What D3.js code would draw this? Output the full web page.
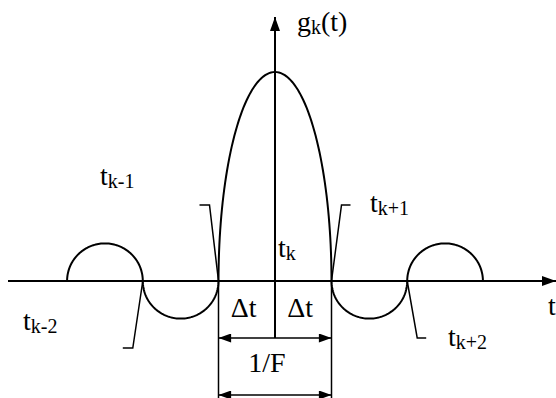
<!DOCTYPE html>
<html lang="en">
  <head>
    <meta charset="utf-8" />
    <title>g_k(t)</title>
    <script src="https://d3js.org/d3.v7.min.js"></script>
    <style type="text/css">
      body { margin: 0; background: #fff; }
    </style>
  </head>
  <body>
    <svg id="chart" width="556" height="398"></svg>
    <script type="text/javascript">
      // lobes of g_k(t), t measured in units of Δt from t_k
      const lobeStart = [-3.68, -2.34, -1, 1, 2.34];
      const lobeEnd   = [-2.34, -1, 1, 2.34, 3.68];
      const lobeAmp   = [0.18, -0.18, 1, -0.18, 0.18];

      // zero crossing labels
      const nodeNames = ["k-2", "k-1", "k", "k+1", "k+2"];
      const nodeT     = [-2.34, -1, 0, 1, 2.34];

      const serif = "Liberation Serif";

      const svg = d3.select("#chart");
      const x = d3.scaleLinear().domain([-1, 1]).range([218.5, 331.5]);
      const y = d3.scaleLinear().domain([0, 1]).range([281, 72]);

      // arrow markers
      const defs = svg.append("defs");
      defs.append("marker")
          .attr("id", "ax")
          .attr("viewBox", "0 0 14 10")
          .attr("refX", 14).attr("refY", 5)
          .attr("markerWidth", 14).attr("markerHeight", 10)
          .attr("markerUnits", "userSpaceOnUse")
          .attr("orient", "auto")
        .append("path").attr("d", "M0,0L14,5L0,10Z").attr("fill", "#000");
      defs.append("marker")
          .attr("id", "dim")
          .attr("viewBox", "0 0 14 10")
          .attr("refX", 14).attr("refY", 5)
          .attr("markerWidth", 14).attr("markerHeight", 9)
          .attr("markerUnits", "userSpaceOnUse")
          .attr("orient", "auto-start-reverse")
        .append("path").attr("d", "M0,0L14,5L0,10Z").attr("fill", "#000");

      // axes
      svg.append("line")
          .attr("x1", 8).attr("x2", 556)
          .attr("y1", y(0)).attr("y2", y(0))
          .attr("stroke", "#000").attr("stroke-width", 2)
          .attr("marker-end", "url(#ax)");
      svg.append("line")
          .attr("x1", x(0)).attr("x2", x(0))
          .attr("y1", 338).attr("y2", 17)
          .attr("stroke", "#000").attr("stroke-width", 2)
          .attr("marker-end", "url(#ax)");

      // half-ellipse lobes
      const line = d3.line().x(d => x(d[0])).y(d => y(d[1]));
      const lobes = lobeStart.map((s, i) => {
        const c = (s + lobeEnd[i]) / 2, r = (lobeEnd[i] - s) / 2;
        return d3.range(0, 181, 2).map(a => {
          const th = Math.PI - a * Math.PI / 180;
          return [c + r * Math.cos(th), lobeAmp[i] * Math.sin(th)];
        });
      });
      svg.selectAll("path.lobe")
          .data(lobes)
          .enter()
          .append("path")
          .attr("class", "lobe")
          .attr("d", line)
          .attr("fill", "none")
          .attr("stroke", "#000")
          .attr("stroke-width", 2);

      // extension lines for 1/F
      svg.selectAll("line.ext")
          .data([-1, 1])
          .enter()
          .append("line")
          .attr("class", "ext")
          .attr("x1", d => x(d)).attr("x2", d => x(d))
          .attr("y1", y(0)).attr("y2", 398)
          .attr("stroke", "#000").attr("stroke-width", 1.5);

      // Δt dimension (two halves with outward arrows)
      svg.selectAll("line.dt")
          .data([-1, 1])
          .enter()
          .append("line")
          .attr("class", "dt")
          .attr("x1", x(0)).attr("x2", d => x(d))
          .attr("y1", 338).attr("y2", 338)
          .attr("stroke", "#000").attr("stroke-width", 1.5)
          .attr("marker-end", "url(#dim)");
      // 1/F dimension
      svg.append("line")
          .attr("x1", x(-1)).attr("x2", x(1))
          .attr("y1", 395).attr("y2", 395)
          .attr("stroke", "#000").attr("stroke-width", 1.5)
          .attr("marker-start", "url(#dim)")
          .attr("marker-end", "url(#dim)");

      // leader lines from zero crossings to labels
      const leaders = [
        {t: nodeT[0], pts: [[0, 0], [-10, 67], [-20, 67]]},
        {t: nodeT[1], pts: [[0, 0], [-9, -76], [-19, -76]]},
        {t: nodeT[3], pts: [[0, 0], [10, -76], [19, -76]]},
        {t: nodeT[4], pts: [[0, 0], [10, 57], [19, 57]]}
      ];
      svg.selectAll("path.leader")
          .data(leaders)
          .enter()
          .append("path")
          .attr("class", "leader")
          .attr("d", d => d3.line()(d.pts.map(p => [x(d.t) + p[0], y(0) + p[1]])))
          .attr("fill", "none")
          .attr("stroke", "#000").attr("stroke-width", 1.5);

      // subscripted labels
      function sub(tx, ty, base, s, tail) {
        const t = svg.append("text")
            .attr("x", tx).attr("y", ty)
            .attr("font-family", serif)
            .attr("font-size", 28);
        t.append("tspan").text(base);
        t.append("tspan").attr("dy", 3).attr("font-size", 20).text(s);
        if (tail) t.append("tspan").attr("dy", -3).text(tail);
      }
      sub(23, 330, "t", nodeNames[0]);
      sub(100, 185, "t", nodeNames[1]);
      sub(278, 257, "t", nodeNames[2]);
      sub(370, 212, "t", nodeNames[3]);
      sub(448, 346, "t", nodeNames[4]);
      sub(297, 31, "g", "k", "(t)");

      svg.append("text")
          .attr("x", 548).attr("y", 315)
          .attr("font-family", serif)
          .attr("font-size", 28)
          .text("t");
      svg.selectAll("text.dlab")
          .data([-0.5, 0.5])
          .enter()
          .append("text")
          .attr("class", "dlab")
          .attr("x", d => x(d) - 3).attr("y", 317)
          .attr("text-anchor", "middle")
          .attr("font-family", serif)
          .attr("font-size", 28)
          .text("Δt");
      svg.append("text")
          .attr("x", x(0) - 8).attr("y", 372)
          .attr("text-anchor", "middle")
          .attr("font-family", serif)
          .attr("font-size", 28)
          .text("1/F");
    </script>
  </body>
</html>
